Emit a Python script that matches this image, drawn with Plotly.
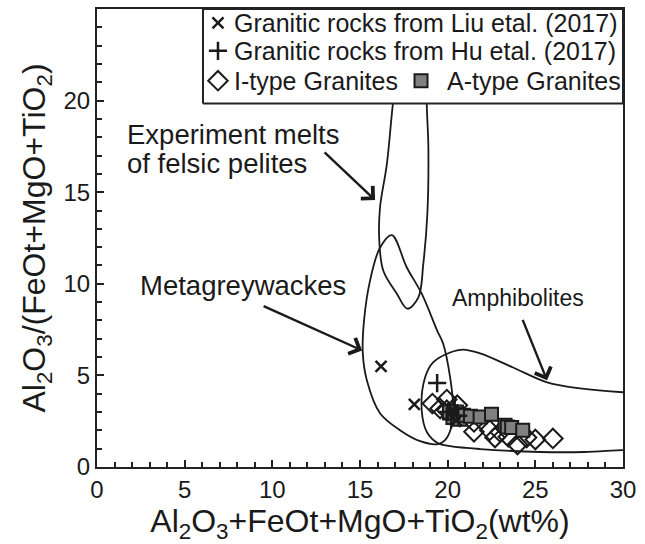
import plotly.graph_objects as go

# ---- sample data: Al2O3+FeOt+MgO+TiO2 (wt%) vs Al2O3/(FeOt+MgO+TiO2) ----
liu_x = [16.2, 18.1, 20.3, 20.5]
liu_y = [5.49, 3.42, 3.10, 2.55]

hu_x = [19.4, 20.0, 20.2, 20.4, 20.6]
hu_y = [4.58, 3.00, 2.60, 3.20, 2.80]

itype_x = [19.13, 19.95, 19.57, 20.55, 19.95, 20.3, 20.7, 21.5, 21.5, 22.4,
           22.7, 23.0, 23.46, 23.98, 24.5, 25.0, 26.0]
itype_y = [3.46, 3.68, 3.19, 3.37, 3.10, 2.90, 2.75, 1.92, 2.46, 2.00,
           1.61, 1.90, 1.65, 1.23, 1.61, 1.50, 1.56]

atype_x = [20.1, 20.5, 20.3, 20.7, 20.9, 21.3, 21.85, 22.5, 23.27, 23.4, 23.65, 24.28]
atype_y = [3.00, 3.00, 2.70, 2.60, 2.83, 2.77, 2.73, 2.88, 2.28, 2.19, 2.16, 2.01]

# ---- source-rock fields (outline vertices) ----
pelite_x = [17.57, 16.87, 16.53, 16.14, 16.10, 16.33, 17.10, 17.70, 18.33, 18.61,
            18.84, 18.90, 18.81, 18.77]
pelite_y = [25.6, 19.78, 16.52, 14.15, 12.34, 10.71, 9.46, 8.64, 9.26, 11.09,
            13.80, 17.41, 19.78, 25.6]

greywacke_x = [16.81, 17.67, 18.52, 19.40, 19.74, 20.14, 20.31, 20.19, 19.85, 19.45,
               18.43, 17.28, 16.14, 15.39, 15.16, 15.23, 15.57, 16.14, 16.81]
greywacke_y = [12.66, 10.89, 9.46, 7.45, 6.74, 4.89, 3.26, 2.12, 1.47, 1.25,
               1.41, 2.01, 2.93, 4.73, 6.20, 7.99, 10.16, 11.97, 12.66]

amphibolite_x = [18.52, 18.71, 19.17, 20.14, 20.88, 21.85, 23.73, 25.67, 27.55, 30.0, 31.0,
                 31.0, 30.0, 27.8, 25.3, 21.85, 20.14, 19.45, 18.82, 18.52]
amphibolite_y = [3.10, 4.89, 5.71, 6.25, 6.41, 6.20, 5.43, 4.62, 4.29, 4.08, 4.05,
                 0.92, 0.92, 0.82, 0.82, 0.98, 1.14, 1.30, 1.90, 3.10]

FONT = "Liberation Sans, Arial, sans-serif"
INK = "#1a1a1a"
FRAME = "#222222"

fig = go.Figure()

for fx, fy in [(pelite_x, pelite_y), (greywacke_x, greywacke_y), (amphibolite_x, amphibolite_y)]:
    fig.add_trace(go.Scatter(x=fx, y=fy, mode="lines",
                             line=dict(color=INK, width=1.8, shape="spline", smoothing=1.0),
                             hoverinfo="skip", showlegend=False))

fig.add_trace(go.Scatter(x=itype_x, y=itype_y, mode="markers", name="I-type Granites",
                         marker=dict(symbol="diamond-open", size=15, color=INK,
                                     line=dict(width=2, color=INK))))
fig.add_trace(go.Scatter(x=atype_x, y=atype_y, mode="markers", name="A-type Granites",
                         marker=dict(symbol="square", size=13, color="#808080",
                                     line=dict(width=2, color=INK))))
fig.add_trace(go.Scatter(x=liu_x, y=liu_y, mode="markers", name="Liu",
                         marker=dict(symbol="x-thin", size=11, color=INK,
                                     line=dict(width=2.5, color=INK))))
fig.add_trace(go.Scatter(x=hu_x, y=hu_y, mode="markers", name="Hu",
                         marker=dict(symbol="cross-thin", size=13, color=INK,
                                     line=dict(width=2.5, color=INK))))

# ---- legend panel drawn on an overlay axis in plot-fraction units ----
box_x = [0.2015, 1.0, 1.0, 0.2015, 0.2015]
box_y = [0.7935, 0.7935, 1.0, 1.0, 0.7935]
fig.add_trace(go.Scatter(x=box_x, y=box_y, xaxis="x2", yaxis="y2", mode="lines",
                         fill="toself", fillcolor="white",
                         line=dict(color=FRAME, width=2), hoverinfo="skip", showlegend=False))
key_styles = [
    (0.230, 0.9696, dict(symbol="x-thin", size=11, color=INK, line=dict(width=2.5, color=INK))),
    (0.230, 0.9087, dict(symbol="cross-thin", size=13, color=INK, line=dict(width=2.5, color=INK))),
    (0.230, 0.8435, dict(symbol="diamond-open", size=15, color=INK, line=dict(width=2, color=INK))),
    (0.616, 0.8435, dict(symbol="square", size=13, color="#808080", line=dict(width=2, color=INK))),
]
for kx, ky, mk in key_styles:
    fig.add_trace(go.Scatter(x=[kx], y=[ky], xaxis="x2", yaxis="y2", mode="markers",
                             marker=mk, hoverinfo="skip", showlegend=False))

legend_texts = [
    (0.2567, 0.9696, "Granitic rocks from Liu etal. (2017)"),
    (0.2567, 0.9087, "Granitic rocks from Hu etal. (2017)"),
    (0.2567, 0.8435, "I-type Granites"),
    (0.6616, 0.8435, "A-type Granites"),
]
annotations = []
for tx, ty, t in legend_texts:
    annotations.append(dict(x=tx, y=ty, xref="paper", yref="paper", text=t, showarrow=False,
                            xanchor="left", yanchor="middle",
                            font=dict(family=FONT, size=25, color=INK)))

field_labels = [
    (0.053, 0.726, "Experiment melts", 27.5),
    (0.053, 0.663, "of felsic pelites", 27.5),
    (0.078, 0.3957, "Metagreywackes", 27.5),
    (0.672, 0.3696, "Amphibolites", 23),
]
for tx, ty, t, fs in field_labels:
    annotations.append(dict(x=tx, y=ty, xref="paper", yref="paper", text=t, showarrow=False,
                            xanchor="left", yanchor="middle",
                            font=dict(family=FONT, size=fs, color=INK)))

# pointer arrows from labels to the fields
arrows = [(15.86, 14.57, -52, -49), (15.12, 6.36, -100, -45), (25.67, 4.73, -25, -62)]
for axx, ayy, dx, dy in arrows:
    annotations.append(dict(x=axx, y=ayy, xref="x", yref="y", ax=dx, ay=dy, text="",
                            showarrow=True, arrowhead=4, arrowsize=1.4, arrowwidth=2.4,
                            arrowcolor=INK, standoff=0))

axis_common = dict(showline=True, linewidth=2.2, linecolor=FRAME, mirror=True,
                   ticks="inside", ticklen=7, tickwidth=1.6, tickcolor=FRAME,
                   showgrid=False, zeroline=False,
                   tickfont=dict(family=FONT, size=24, color=INK))

fig.update_layout(
    width=645, height=544,
    margin=dict(l=97, r=22, t=7, b=77),
    paper_bgcolor="white", plot_bgcolor="white",
    showlegend=False,
    annotations=annotations,
    xaxis=dict(range=[0, 30], dtick=5, tick0=0,
               minor=dict(dtick=1, ticks="inside", ticklen=5, tickwidth=1.6, tickcolor=FRAME),
               title=dict(text="Al<sub>2</sub>O<sub>3</sub>+FeOt+MgO+TiO<sub>2</sub>(wt%)",
                          font=dict(family=FONT, size=32, color=INK), standoff=4),
               **axis_common),
    yaxis=dict(range=[0, 25], dtick=5, tick0=0,
               minor=dict(dtick=1, ticks="inside", ticklen=5, tickwidth=1.6, tickcolor=FRAME),
               title=dict(text="Al<sub>2</sub>O<sub>3</sub>/(FeOt+MgO+TiO<sub>2</sub>)",
                          font=dict(family=FONT, size=32, color=INK), standoff=8),
               **axis_common),
    xaxis2=dict(range=[0, 1], overlaying="x", visible=False, fixedrange=True),
    yaxis2=dict(range=[0, 1], overlaying="y", visible=False, fixedrange=True),
)

fig.write_html("out.html")
